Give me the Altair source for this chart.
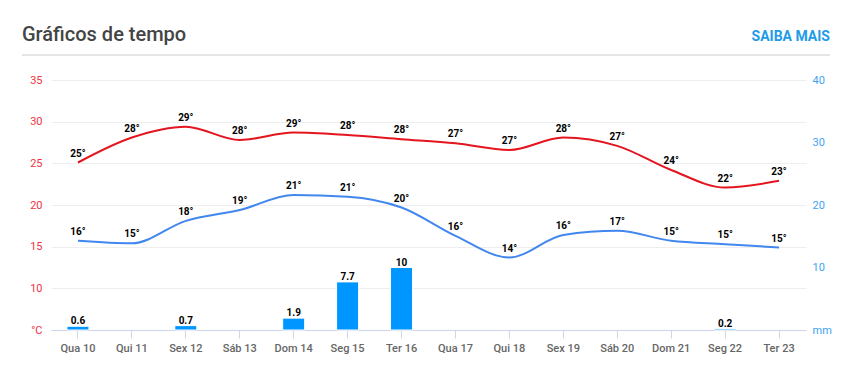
import altair as alt
import pandas as pd

days = ["Qua 10", "Qui 11", "Sex 12", "Sáb 13", "Dom 14", "Seg 15", "Ter 16",
        "Qua 17", "Qui 18", "Sex 19", "Sáb 20", "Dom 21", "Seg 22", "Ter 23"]
tmax = [25.1, 28.1, 29.4, 27.8, 28.7, 28.4, 27.9, 27.4, 26.6, 28.1, 27.1, 24.2, 22.1, 22.9]
tmax_lbl = [25, 28, 29, 28, 29, 28, 28, 27, 27, 28, 27, 24, 22, 23]
tmin = [15.7, 15.4, 18.1, 19.4, 21.2, 21.0, 19.7, 16.3, 13.7, 16.4, 16.9, 15.7, 15.3, 14.9]
tmin_lbl = [16, 15, 18, 19, 21, 21, 20, 16, 14, 16, 17, 15, 15, 15]
precip = [0.6, 0, 0.7, 0, 1.9, 7.7, 10, 0, 0, 0, 0, 0, 0.2, 0]
precip_lbl = ["0.6", "", "0.7", "", "1.9", "7.7", "10", "", "", "", "", "", "0.2", ""]

title_txt = ["Gráficos de tempo"]
link_txt = ["SAIBA MAIS"]

FONT = "Roboto"

df = pd.DataFrame({
    "day": days,
    "tmax": tmax,
    "tmax_lbl": [f"{v}°" for v in tmax_lbl],
    "tmin": tmin,
    "tmin_lbl": [f"{v}°" for v in tmin_lbl],
    "precip": precip,
    "precip_lbl": precip_lbl,
})

x_axis = alt.Axis(
    title=None, labelAngle=0, labelFont=FONT, labelFontSize=11, labelFontWeight=500,
    labelColor="#666666", domainColor="#ccd6eb", tickColor="#ccd6eb", tickSize=8,
    labelPadding=4, grid=False,
)
x_enc = alt.X("day:N", sort=days, axis=x_axis,
              scale=alt.Scale(paddingInner=0, paddingOuter=0))

ty = alt.Scale(domain=[5, 35], nice=False, zero=False)
left_axis = alt.Axis(
    title=None, values=[5, 10, 15, 20, 25, 30, 35],
    labelExpr="datum.value == 5 ? '°C' : datum.label",
    labelColor="#ee3340", labelFont=FONT, labelFontSize=11,
    domain=False, ticks=False, tickSize=0, labelPadding=9,
    gridColor="#eeeeee", gridWidth=1,
)

base = alt.Chart(df)

red_line = base.mark_line(color="#e4151f", strokeWidth=2, interpolate="monotone").encode(
    x=x_enc, y=alt.Y("tmax:Q", scale=ty, axis=left_axis))
blue_line = base.mark_line(color="#4287ee", strokeWidth=2, interpolate="monotone").encode(
    x=x_enc, y=alt.Y("tmin:Q", scale=ty, axis=left_axis))
red_txt = base.mark_text(font=FONT, fontSize=10, fontWeight="bold", color="#000000",
                         baseline="middle", dy=-9).encode(
    x=x_enc, y=alt.Y("tmax:Q", scale=ty, axis=left_axis), text="tmax_lbl:N")
blue_txt = base.mark_text(font=FONT, fontSize=10, fontWeight="bold", color="#000000",
                          baseline="middle", dy=-9).encode(
    x=x_enc, y=alt.Y("tmin:Q", scale=ty, axis=left_axis), text="tmin_lbl:N")

temp = alt.layer(red_line, blue_line, red_txt, blue_txt)

py = alt.Scale(domain=[0, 40], nice=False)
right_axis = alt.Axis(
    title=None, orient="right", values=[0, 10, 20, 30, 40],
    labelExpr="datum.value == 0 ? 'mm' : datum.label",
    labelColor="#3ea3f2", labelFont=FONT, labelFontSize=11,
    domain=False, ticks=False, tickSize=0, labelPadding=6, grid=False,
)
bars = base.transform_filter("datum.precip > 0").mark_bar(
    color="#0096ff", size=22, stroke="#ffffff", strokeWidth=1).encode(
    x=x_enc, y=alt.Y("precip:Q", scale=py, axis=right_axis))
bar_txt = base.transform_filter("datum.precip_lbl != ''").mark_text(
    font=FONT, fontSize=10, fontWeight="bold", color="#000000",
    baseline="alphabetic", dy=-2).encode(
    x=x_enc, y=alt.Y("precip:Q", scale=py, axis=right_axis), text="precip_lbl:N")

rain = alt.layer(bars, bar_txt)

title = alt.Chart(pd.DataFrame({"t": title_txt})).mark_text(
    font=FONT, fontSize=20, fontWeight=500, color="#444444", align="left",
    baseline="alphabetic").encode(x=alt.value(-29), y=alt.value(-39), text="t:N")
link = alt.Chart(pd.DataFrame({"t": link_txt})).mark_text(
    font=FONT, fontSize=14, fontWeight="bold", color="#1e9be9", align="right",
    baseline="alphabetic").encode(x=alt.value(779), y=alt.value(-39), text="t:N")
sep = alt.Chart(pd.DataFrame({"t": title_txt})).mark_rule(
    color="#dddddd", strokeWidth=1.5).encode(
    x=alt.value(-29), x2=alt.value(779), y=alt.value(-25))

chart = alt.layer(temp, rain, title, link, sep).resolve_scale(y="independent").properties(
    width=755, height=250,
    autosize=alt.AutoSizeParams(type="none"),
    padding={"left": 43, "top": 72, "right": 43, "bottom": 33},
    view=alt.ViewBackground(stroke="transparent", strokeWidth=0),
).configure(
    background="#ffffff",
    view=alt.ViewConfig(stroke="transparent", strokeWidth=0),
)

chart.save("out.html", embed_options={"renderer": "svg", "actions": False})
